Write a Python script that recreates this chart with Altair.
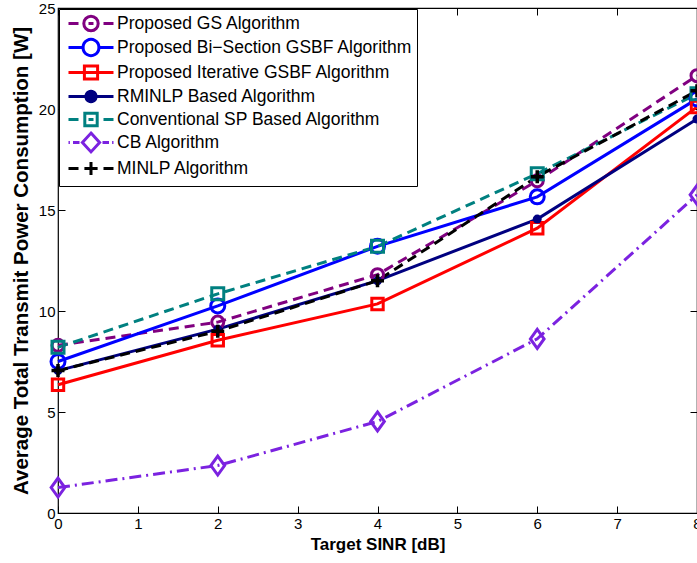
import altair as alt
import pandas as pd

# ---- data ----
sinr_db = [0, 2, 4, 6, 8]
series_names = [
    "Proposed GS Algorithm",
    "Proposed Bi\u2212Section GSBF Algorithm",
    "Proposed Iterative GSBF Algorithm",
    "RMINLP Based Algorithm",
    "Conventional SP Based Algorithm",
    "CB Algorithm",
    "MINLP Algorithm",
]
gs_power = [8.3, 9.45, 11.8, 16.45, 21.65]
bisection_power = [7.5, 10.25, 13.2, 15.65, 20.5]
iterative_power = [6.35, 8.55, 10.35, 14.1, 20.1]
rminlp_power = [7.05, 9.1, 11.5, 14.55, 19.5]
sp_power = [8.2, 10.85, 13.2, 16.8, 20.75]
cb_power = [1.26, 2.35, 4.53, 8.62, 15.75]
minlp_power = [7.05, 9.0, 11.5, 16.65, 20.9]
x_ticks = [0, 1, 2, 3, 4, 5, 6, 7, 8]
y_ticks = [0, 5, 10, 15, 20, 25]

all_values = [gs_power, bisection_power, iterative_power, rminlp_power,
              sp_power, cb_power, minlp_power]

rows = []
for name, vals in zip(series_names, all_values):
    for xv, yv in zip(sinr_db, vals):
        rows.append({"x": xv, "y": yv, "series": name})
df = pd.DataFrame(rows)

# ---- styles ----
colors = ["#800080", "#0000FF", "#FF0000", "#000080", "#008080", "#7B22E0", "#000000"]
dashes = [[10, 6], None, None, None, [10, 6], [12, 5, 2, 5], [10, 6]]
plus_path = "M-1,0L1,0M0,-1L0,1"
diamond_path = "M0,-1L0.72,0L0,1L-0.72,0Z"
markers = [
    dict(shape="circle", size=144, filled=False),
    dict(shape="circle", size=196, filled=False),
    dict(shape="square", size=130, filled=False),
    dict(shape="circle", size=81, filled=True),
    dict(shape="square", size=144, filled=False),
    dict(shape=diamond_path, size=361, filled=False),
    dict(shape=plus_path, size=169, filled=False),
]

# legend glyphs (line sample + marker) drawn in a 45px-wide box, unit = 9px
SYM = 18.0
U = SYM / 2
EXT = 9.5    # uniform vertical extent of every legend glyph (for equal rows)
SHIFT = 3.5  # bounds shifted upward (balances the legend's top/bottom margins)
XOFF = 4     # glyph shifted right inside the legend box


def ux(px):
    return round((px + XOFF - U) / U, 3)


def uy(py):
    return round(py / U, 3)


def seg(a, b):
    return f"M{ux(a)},0L{ux(b)},0"


def circ(r, cx=22.5):
    return (f"M{ux(cx + r)},0A{uy(r)},{uy(r)},0,1,1,{ux(cx - r)},0"
            f"A{uy(r)},{uy(r)},0,1,1,{ux(cx + r)},0Z")


def sq(h, cx=22.5):
    return (f"M{ux(cx - h)},{uy(-h)}L{ux(cx + h)},{uy(-h)}L{ux(cx + h)},{uy(h)}"
            f"L{ux(cx - h)},{uy(h)}Z")


def dia(hw, hh, cx=22.5):
    return (f"M{ux(cx)},{uy(-hh)}L{ux(cx + hw)},0L{ux(cx)},{uy(hh)}L{ux(cx - hw)},0Z")


def plus(h, cx=22.5):
    return f"M{ux(cx - h)},0L{ux(cx + h)},0M{ux(cx)},{uy(-h)}L{ux(cx)},{uy(h)}"


def box():
    return f"M{ux(22.5)},{uy(-EXT - SHIFT)}M{ux(22.5)},{uy(EXT - SHIFT)}"


legend_paths = [
    box() + seg(0, 10) + seg(20, 25) + seg(35, 45) + circ(7.2),
    box() + seg(0, 14.6) + seg(30.4, 45) + circ(7.9),
    box() + seg(0, 45) + sq(6.6),
    box() + seg(0, 45) + circ(5),
    box() + seg(0, 10) + seg(20, 25) + seg(35, 45) + sq(6.2),
    box() + seg(0, 1.4) + seg(4.5, 11) + seg(34, 40.5) + seg(43.6, 45) + dia(8.6, 9.4),
    box() + seg(0, 10) + seg(35, 45) + plus(6.6),
]
legend_fills = ["white", "white", "white", "#000080", "white", "white", "white"]

FONT = "Liberation Sans"
TICK = 7

x_scale = alt.Scale(domain=[0, 8], nice=False, zero=False)
y_scale = alt.Scale(domain=[0, 25], nice=False, zero=False)

x_axis = alt.Axis(values=x_ticks, title="Target SINR [dB]", grid=False, domain=False,
                  ticks=True, tickSize=TICK, offset=-TICK, labelPadding=3,
                  labelFlush=False, labelOverlap=False, labelFontSize=15,
                  labelFont=FONT, titleFont=FONT, titleFontSize=17, titleFontWeight="bold",
                  titlePadding=5, tickColor="black", labelColor="black", titleColor="black",
                  format="d")
y_axis = alt.Axis(values=y_ticks, title="Average Total Transmit Power Consumption [W]",
                  grid=False, domain=False, ticks=True, tickSize=TICK, offset=-TICK,
                  labelPadding=3, labelFlush=False, labelOverlap=False, labelFontSize=15,
                  labelFont=FONT, titleFont=FONT, titleFontSize=20.5, titleFontWeight="bold",
                  titlePadding=7, tickColor="black", labelColor="black", titleColor="black",
                  format="d")

X = alt.X("x:Q", scale=x_scale, axis=x_axis)
Y = alt.Y("y:Q", scale=y_scale, axis=y_axis)

layers = []
for i, name in enumerate(series_names):
    sub = df[df["series"] == name]
    lkw = dict(color=colors[i], strokeWidth=3, clip=False)
    if dashes[i] is not None:
        lkw["strokeDash"] = dashes[i]
    layers.append(alt.Chart(sub).mark_line(**lkw).encode(x=X, y=Y))
for i, name in enumerate(series_names):
    sub = df[df["series"] == name]
    m = markers[i]
    pkw = dict(shape=m["shape"], size=m["size"], filled=m["filled"], color=colors[i],
               strokeWidth=3.5 if i == 6 else 3, opacity=1)
    layers.append(alt.Chart(sub).mark_point(**pkw).encode(x=X, y=Y))

leg = dict(title=None, orient="none", legendX=1, legendY=1, padding=4,
           strokeColor="black", fillColor="white", labelFont=FONT, labelFontSize=17.5,
           labelColor="black", symbolSize=SYM * SYM, symbolStrokeWidth=3, labelOffset=33,
           rowPadding=-11.6, labelLimit=500, cornerRadius=0)
legend_layer = alt.Chart(df).transform_filter("false").mark_point(
    strokeWidth=3, opacity=1
).encode(
    x=X, y=Y,
    stroke=alt.Stroke("series:N", scale=alt.Scale(domain=series_names, range=colors),
                      legend=alt.Legend(**leg)),
    fill=alt.Fill("series:N", scale=alt.Scale(domain=series_names, range=legend_fills),
                  legend=alt.Legend(**leg)),
    shape=alt.Shape("series:N", scale=alt.Scale(domain=series_names, range=legend_paths),
                    legend=alt.Legend(**leg)),
)
layers.append(legend_layer)

main = alt.layer(*layers)

mirror = alt.Chart(df[df["series"] == series_names[0]]).mark_point(opacity=0).encode(
    x=alt.X("x:Q", scale=x_scale,
            axis=alt.Axis(orient="top", values=x_ticks, labels=False, title=None, grid=False,
                          domain=False, tickSize=TICK, offset=-TICK, tickColor="black")),
    y=alt.Y("y:Q", scale=y_scale,
            axis=alt.Axis(orient="right", values=y_ticks, labels=False, title=None, grid=False,
                          domain=False, tickSize=TICK, offset=-TICK, tickColor="black")),
)

chart = alt.layer(main, mirror).resolve_scale(
    x="independent", y="independent"
).properties(
    width=639, height=505,
    padding={"left": 58, "top": 8, "right": 0, "bottom": 50},
    autosize=alt.AutoSizeParams(type="none"),
    background="white",
).configure_view(stroke="black", strokeWidth=1.2)

chart.save("out.html", embed_options={"renderer": "svg", "actions": False})
